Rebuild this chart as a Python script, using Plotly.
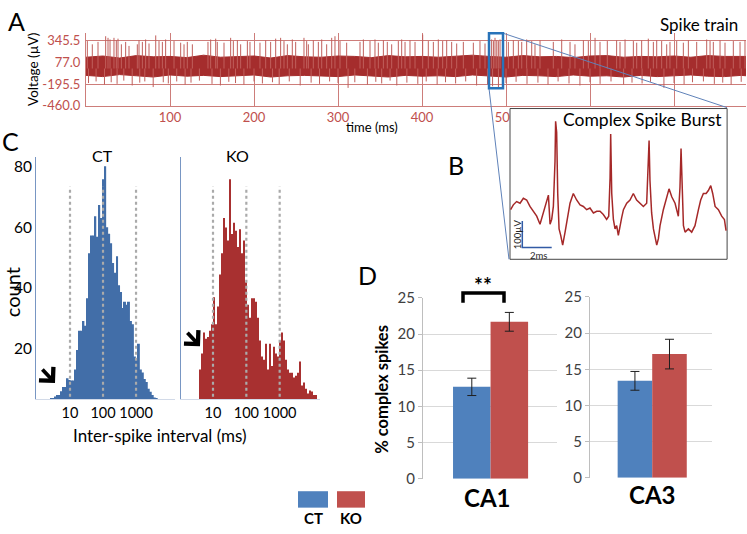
import plotly.graph_objects as go

W, H = 747, 534

# ---------------- DATA ----------------
# Panel A: spike train (time in ms, voltage in uV)
env_t = [0, 20, 40, 60, 80, 100, 120, 140, 160, 180, 200, 220, 240, 260, 280, 300, 320, 340, 360, 380,
         400, 420, 440, 460, 480, 500, 520, 540, 560, 580, 600, 620, 640, 660, 680, 700, 720, 740, 760, 780, 786]
env_upper = [140, 155, 130, 160, 145, 150, 135, 165, 140, 150, 155, 130, 160, 145, 140, 155, 150, 135, 160, 145,
             150, 140, 155, 165, 150, 140, 160, 145, 150, 135, 155, 160, 140, 150, 145, 155, 140, 160, 150, 145, 150]
env_lower = [-85, -100, -75, -90, -105, -80, -95, -85, -100, -90, -80, -105, -90, -85, -95, -100, -80, -90, -105, -85,
             -95, -90, -100, -80, -95, -105, -85, -90, -100, -80, -95, -90, -105, -85, -100, -90, -80, -95, -100, -85, -90]

spike_t = [1.6, 7.5, 14.3, 23.4, 26.2, 28.6, 33.3, 36.1, 38.1, 42.1, 47.2, 51.2, 61.1, 63.1, 67.1, 71.0, 75.0,
           83.0, 86.9, 90.9, 94.8, 104.8, 112.7, 116.7, 120.6, 126.6, 145.2, 148.4, 154.4, 156.3, 164.3, 172.2,
           175.4, 180.2, 184.1, 192.1, 195.2, 207.1, 213.9, 219.8, 225.8, 231.7, 235.7, 239.7, 245.6, 249.6,
           259.5, 262.7, 264.7, 270.6, 276.6, 280.6, 286.5, 292.5, 296.4, 302.4, 310.3, 326.2, 330.2, 338.1,
           344.0, 348.0, 354.0, 358.7, 363.9, 371.8, 375.8, 379.8, 385.7, 391.7, 400.8, 407.5, 413.5, 419.4,
           424.6, 429.4, 435.3, 441.3, 449.2, 461.1, 469.0, 475.0, 482.9, 485.0, 486.9, 489.0, 490.9, 492.9,
           502.8, 508.7, 514.7, 518.7, 524.6, 530.6, 534.5, 540.5, 556.3, 566.3, 576.2, 582.1, 592.1, 598.0,
           606.0, 611.9, 620.6, 631.7, 635.7, 641.7, 651.6, 655.6, 661.5, 669.4, 675.4, 679.4, 685.3, 691.3,
           695.2, 703.2, 711.1, 717.1, 727.0, 738.9, 742.9, 746.8, 754.8, 760.7, 770.6, 778.6, 784.5]
spike_peak = [340, 300, 330, 400, 380, 360, 380, 350, 370, 300, 330, 280, 300, 350, 330, 360, 310,
              410, 340, 330, 360, 340, 320, 300, 330, 300, 330, 360, 370, 330, 320, 380,
              340, 350, 300, 340, 330, 320, 350, 330, 370, 380, 340, 300, 360, 330,
              380, 340, 300, 350, 330, 360, 300, 380, 400, 340, 320, 330, 360, 340,
              360, 320, 350, 330, 300, 340, 360, 330, 350, 330, 420, 340, 330, 360,
              340, 350, 330, 310, 330, 320, 340, 310, 360, 340, 380, 350, 340, 360,
              330, 350, 340, 330, 360, 340, 300, 350, 330, 360, 330, 300, 350, 340,
              380, 330, 340, 350, 330, 360, 340, 320, 350, 370, 330, 350, 340, 300,
              330, 340, 320, 350, 330, 360, 340, 330, 350, 320, 340, 330, 350]

dip_t = [3, 12, 22, 30, 37, 45, 55, 64, 70, 80, 92, 98, 108, 118, 125, 135, 150, 160, 170, 178, 188, 200,
         210, 222, 230, 242, 255, 268, 278, 290, 300, 312, 320, 335, 345, 352, 362, 370, 382, 395, 405, 418,
         428, 440, 452, 465, 478, 484, 491, 500, 512, 525, 538, 550, 562, 575, 588, 600, 612, 625, 640, 650,
         662, 672, 688, 700, 712, 722, 735, 748, 758, 768, 780]
dip_trough = [-180, -160, -200, -170, -190, -150, -210, -175, -160, -230, -170, -185, -160, -200, -175, -150,
              -190, -210, -165, -180, -200, -160, -185, -170, -195, -160, -210, -175, -190, -160, -180, -240,
              -170, -200, -165, -185, -150, -210, -175, -190, -160, -200, -170, -185, -160, -210, -195, -220,
              -230, -180, -165, -190, -175, -200, -160, -185, -210, -170, -190, -160, -200, -175, -185, -165,
              -240, -180, -195, -170, -160, -190, -175, -200, -165]

a_ytick_vals = [-460, -195.5, 77, 345.5]
a_ytick_text = ["-460.0", "-195.5", "77.0", "345.5"]
a_xtick_vals = [100, 200, 300, 400, 500, 600, 700]
a_xtick_text = ["100", "200", "300", "400", "500", "", ""]   # 600/700 hidden behind inset B

# Panel B: complex spike burst (ms, uV)
burst_t = [0.04, 0.22, 0.44, 0.67, 0.89, 1.11, 1.33, 1.56, 1.78, 2.00, 2.22, 2.44, 2.56, 2.67, 2.78, 2.89,
           3.00, 3.04, 3.11, 3.18, 3.27, 3.38, 3.51, 3.67, 3.82, 4.00, 4.22, 4.44, 4.67, 4.89, 5.11, 5.33,
           5.56, 5.78, 6.00, 6.22, 6.44, 6.58, 6.67, 6.71, 6.78, 6.89, 7.00, 7.11, 7.22, 7.33, 7.44, 7.56,
           7.78, 8.00, 8.22, 8.44, 8.67, 8.89, 9.11, 9.22, 9.27, 9.33, 9.44, 9.56, 9.67, 9.78, 9.89, 10.00,
           10.22, 10.44, 10.60, 10.78, 11.00, 11.22, 11.33, 11.40, 11.47, 11.56, 11.67, 11.89, 12.11, 12.33,
           12.56, 12.71, 12.89, 13.07, 13.22, 13.38, 13.51, 13.67, 13.89, 14.11, 14.29, 14.40]
burst_v = [-6, 12, 24, 18, 36, 30, 6, -12, -30, -60, -18, 18, 48, -60, -42, 6,
           173, 321, 280, 54, -77, -101, -137, -89, -42, 18, 54, 30, 12, 6, -6, 0,
           -18, -12, -12, -24, -42, -30, 113, 274, 54, -42, -77, -65, -101, -60, -36, -6,
           18, 30, 54, 30, 18, 6, 18, 173, 250, 101, -18, -77, -113, -137, -113, -65,
           -6, 42, 71, 42, 18, -30, 77, 220, 113, -65, -89, -77, -89, -65,
           -6, 30, 54, 54, 65, 83, 54, 6, -6, -30, -42, -83]

# Panel C: inter-spike interval histograms (counts per log10 bin)
isi_bin_width = 0.06
ct_bin_start = 0.415
ct_counts = [3.5, 3.5, 4.0, 4.5, 4.5, 5.8, 7.2, 7.2, 10.1, 9.5, 9.3, 9.3, 13.0, 19.4, 25.8, 25.8, 29.0, 27.4,
             36.5, 51.4, 57.3, 57.3, 63.7, 56.9, 67.4, 63.1, 75.9, 80.2, 60.0, 57.9, 54.7, 48.2, 45.0, 50.4,
             40.8, 38.6, 33.3, 35.4, 34.4, 35.4, 29.0, 27.9, 17.3, 16.2, 21.5, 13.0, 12.0, 9.8, 8.8, 6.6,
             5.6, 4.5, 3.7, 3.5]
ko_bin_start = 0.58
ko_counts = [13.0, 18.3, 25.2, 23.1, 23.7, 25.8, 27.9, 36.9, 27.9, 33.8, 44.4, 51.4, 63.1, 59.9, 55.6, 75.9,
             57.8, 61.5, 58.9, 53.5, 59.4, 51.4, 55.6, 41.8, 34.4, 30.1, 36.5, 36.5, 35.4, 30.1, 22.6, 17.3,
             16.2, 21.5, 13.0, 21.5, 14.1, 20.5, 18.3, 17.3, 22.6, 25.2, 22.6, 16.2, 13.0, 11.9, 11.9, 10.3,
             10.9, 11.9, 15.6, 7.7, 8.7, 6.6, 5.0, 6.0, 5.7, 4.5, 4.5]
isi_marks = [1, 2, 3]
isi_tick_text = ["10", "100", "1000"]
count_ticks = [20, 40, 60, 80]

# Panel D: % complex spikes
groups = ["CT", "KO"]
ca1_mean = [12.7, 21.7]
ca1_err = [1.2, 1.3]
ca3_mean = [13.4, 17.1]
ca3_err = [1.3, 2.05]

# ---------------- STYLE ----------------
FONT = "Lato"
RUST = "rgb(192,80,77)"
GRID_A = "rgb(205,125,122)"
SIG = "rgb(165,45,45)"
SPK = "rgb(192,95,92)"
BLUE_C = "rgb(66,110,168)"
RED_C = "rgb(168,48,48)"
BLUE_D = "#4f81bd"
RED_D = "#c0504d"


def dx(a, b):
    return [a / W, b / W]


def dy(top, bottom):
    return [1 - bottom / H, 1 - top / H]


def px(x):
    return x / W


def py(y):
    return 1 - y / H


fig = go.Figure()

# ---- Panel A traces ----
fig.add_trace(go.Scatter(x=env_t + env_t[::-1], y=env_upper + env_lower[::-1], fill="toself",
                         fillcolor=SIG, line=dict(color=SIG, width=1), mode="lines",
                         xaxis="x", yaxis="y", hoverinfo="skip"))
sx, sy = [], []
for t, p in zip(spike_t, spike_peak):
    sx += [t, t, None]
    sy += [0, p, None]
fig.add_trace(go.Scatter(x=sx, y=sy, mode="lines", line=dict(color=SPK, width=1),
                         xaxis="x", yaxis="y", hoverinfo="skip"))
dxs, dys = [], []
for t, p in zip(dip_t, dip_trough):
    dxs += [t, t, None]
    dys += [0, p, None]
fig.add_trace(go.Scatter(x=dxs, y=dys, mode="lines", line=dict(color=SPK, width=1),
                         xaxis="x", yaxis="y", hoverinfo="skip"))

# ---- Panel B traces ----
b_x0, b_x1, b_y0, b_y1 = 0, 14.47, -189.3, 367.9
fig.add_trace(go.Scatter(x=[b_x0, b_x1, b_x1, b_x0, b_x0], y=[b_y0, b_y0, b_y1, b_y1, b_y0],
                         fill="toself", fillcolor="white", mode="lines",
                         line=dict(color="rgb(70,70,70)", width=1), xaxis="x2", yaxis="y2", hoverinfo="skip"))
fig.add_trace(go.Scatter(x=burst_t, y=burst_v, mode="lines", line=dict(color="rgb(165,40,40)", width=1.5),
                         xaxis="x2", yaxis="y2", hoverinfo="skip"))
fig.add_trace(go.Scatter(x=[0.82, 0.82, 2.78], y=[-48, -146, -146], mode="lines",
                         line=dict(color="rgb(50,90,165)", width=1.5), xaxis="x2", yaxis="y2", hoverinfo="skip"))

# ---- Panel C traces ----
ct_x = [ct_bin_start + (k + 0.5) * isi_bin_width for k in range(len(ct_counts))]
ko_x = [ko_bin_start + (k + 0.5) * isi_bin_width for k in range(len(ko_counts))]
fig.add_trace(go.Bar(x=ct_x, y=ct_counts, width=isi_bin_width, marker=dict(color=BLUE_C, line=dict(width=0)),
                     xaxis="x3", yaxis="y3", hoverinfo="skip"))
fig.add_trace(go.Bar(x=ko_x, y=ko_counts, width=isi_bin_width, marker=dict(color=RED_C, line=dict(width=0)),
                     xaxis="x4", yaxis="y4", hoverinfo="skip"))
mx, my = [], []
for m in isi_marks:
    mx += [m, m, None]
    my += [0, 73.5, None]
for ax_x, ax_y in (("x3", "y3"), ("x4", "y4")):
    fig.add_trace(go.Scatter(x=mx, y=my, mode="lines",
                             line=dict(color="rgb(170,170,170)", width=2.2, dash="dot"),
                             xaxis=ax_x, yaxis=ax_y, hoverinfo="skip"))

# ---- Panel D traces ----
err_style = dict(type="data", thickness=1, width=4.5, color="rgb(30,30,30)")
fig.add_trace(go.Bar(x=[0, 1], y=ca1_mean, width=1, marker=dict(color=[BLUE_D, RED_D], line=dict(width=0)),
                     error_y=dict(array=ca1_err, **err_style), xaxis="x5", yaxis="y5", hoverinfo="skip"))
fig.add_trace(go.Bar(x=[0, 1], y=ca3_mean, width=1, marker=dict(color=[BLUE_D, RED_D], line=dict(width=0)),
                     error_y=dict(array=ca3_err, **err_style), xaxis="x6", yaxis="y6", hoverinfo="skip"))

# ---------------- AXES ----------------
layout = dict(
    width=W, height=H, margin=dict(l=0, r=0, t=0, b=0),
    paper_bgcolor="white", plot_bgcolor="rgba(0,0,0,0)",
    showlegend=False, barmode="overlay",
    font=dict(family=FONT, color="black"),
)

layout["xaxis"] = dict(domain=dx(86, 746), range=[0, 785.7], anchor="y", tickvals=a_xtick_vals,
                       ticktext=a_xtick_text, tickangle=0,
                       showgrid=True, gridcolor=GRID_A, gridwidth=1, showline=True, linecolor=GRID_A,
                       zeroline=False, ticks="", tickfont=dict(size=13, color=RUST, family=FONT))
layout["yaxis"] = dict(domain=dy(24, 99), range=[-460, 437.6], anchor="x", tickvals=a_ytick_vals,
                       ticktext=a_ytick_text, showgrid=True, gridcolor=GRID_A, showline=True,
                       linecolor=GRID_A, zeroline=False, ticks="outside", ticklen=2,
                       tickcolor="rgba(0,0,0,0)", tickfont=dict(size=13, color=RUST, family=FONT))

layout["xaxis2"] = dict(domain=dx(509, 728), range=[-0.067, 14.53], anchor="y2", visible=False)
layout["yaxis2"] = dict(domain=dy(101, 259), range=[-192.9, 371.4], anchor="x2", visible=False)

c_y_range = [3.07, 83.3]
c_x = dict(tickvals=isi_marks, ticktext=isi_tick_text, tickangle=0, showgrid=False, zeroline=False,
           showline=True, linecolor="rgb(210,218,232)", ticks="", tickfont=dict(size=14.5, family=FONT))
layout["xaxis3"] = dict(domain=dx(36, 175), range=[-0.03, 4.18], anchor="y3", **c_x)
layout["yaxis3"] = dict(domain=dy(152, 403), range=c_y_range, anchor="x3", tickvals=count_ticks,
                        showgrid=False, zeroline=False, showline=True, linecolor="rgb(120,150,195)",
                        ticks="", tickfont=dict(size=15.5, family=FONT))
layout["xaxis4"] = dict(domain=dx(181, 320), range=[0.04, 4.21], anchor="y4", **c_x)
layout["yaxis4"] = dict(domain=dy(152, 403), range=c_y_range, anchor="x4", showticklabels=False,
                        showgrid=False, zeroline=False, showline=True, linecolor="rgb(120,150,195)", ticks="")

d_y = dict(range=[0, 25], tick0=0, dtick=5, showgrid=True, gridcolor="rgb(217,217,217)", zeroline=False,
           showline=True, linecolor="rgb(190,190,190)", ticks="outside", ticklen=4,
           tickcolor="rgb(190,190,190)", tickfont=dict(size=15, color="rgb(64,64,64)", family=FONT))
layout["xaxis5"] = dict(domain=dx(423, 557), range=[-1.3, 2.27], anchor="y5", visible=False)
layout["yaxis5"] = dict(domain=dy(298, 485), anchor="x5", **d_y)
layout["xaxis6"] = dict(domain=dx(590, 712), range=[-1.3, 2.23], anchor="y6", visible=False)
layout["yaxis6"] = dict(domain=dy(297, 484), anchor="x6", **d_y)

fig.update_layout(**layout)


# ---------------- ANNOTATIONS ----------------
def txt(x, y, s, size, bold=False, angle=0, color="black"):
    fig.add_annotation(x=px(x), y=py(y), xref="paper", yref="paper", text=("<b>%s</b>" % s) if bold else s,
                       showarrow=False, textangle=angle, xanchor="center", yanchor="middle",
                       font=dict(size=size, color=color, family=FONT))


txt(16, 11, "A", 25)
txt(699, 15, "Spike train", 17)
txt(33, 62, "Voltage (µV)", 13.5, angle=-90)
txt(372, 121, "time (ms)", 13)
txt(456, 160, "B", 25)
txt(642, 113, "Complex Spike Burst", 17.5)
txt(517, 232, "100µV", 9.5, angle=-90, color="rgb(40,40,40)")
txt(538, 254, "2ms", 9.5, color="rgb(40,40,40)")
txt(10, 136, "C", 25)
txt(102, 151, "CT", 16)
txt(237, 151, "KO", 16)
txt(12, 292, "count", 20, angle=-90)
txt(160, 440, "Inter-spike interval (ms)", 17)
txt(367, 274, "D", 25)
txt(483, 284, "**", 21, bold=True)
txt(382, 393, "% complex spikes", 16.5, bold=True, angle=-90)
txt(487, 505, "CA1", 24, bold=True)
txt(652, 501, "CA3", 24, bold=True)
txt(313, 526, "CT", 15, bold=True)
txt(351, 526, "KO", 15, bold=True)

for hx, hy in ((55, 386), (200, 348)):
    fig.add_annotation(x=px(hx), y=py(hy), xref="paper", yref="paper", text="", showarrow=True,
                       ax=-14, ay=-15, arrowhead=4, arrowsize=1, arrowwidth=3.8, arrowcolor="black")

# ---------------- SHAPES ----------------
link = dict(color="rgb(95,130,185)", width=1)
fig.add_shape(type="line", xref="paper", yref="paper", x0=px(503), y0=py(24), x1=px(727), y1=py(101), line=link)
fig.add_shape(type="line", xref="paper", yref="paper", x0=px(489), y0=py(81), x1=px(509), y1=py(258), line=link)
fig.add_shape(type="rect", xref="paper", yref="paper", x0=px(489), y0=py(81), x1=px(503), y1=py(24),
              line=dict(color="rgb(40,115,185)", width=2.5))
fig.add_shape(type="path", xref="paper", yref="paper",
              path="M %f %f L %f %f L %f %f L %f %f" % (px(463), py(303), px(463), py(293),
                                                        px(504), py(293), px(504), py(303)),
              line=dict(color="black", width=3.5))
fig.add_shape(type="rect", xref="paper", yref="paper", x0=px(298), y0=py(515), x1=px(328), y1=py(498),
              fillcolor=BLUE_D, line=dict(width=0))
fig.add_shape(type="rect", xref="paper", yref="paper", x0=px(337), y0=py(515), x1=px(365), y1=py(498),
              fillcolor=RED_D, line=dict(width=0))

fig.write_html("out.html", config={"displayModeBar": False},
               post_script="document.body.style.margin='0';")
